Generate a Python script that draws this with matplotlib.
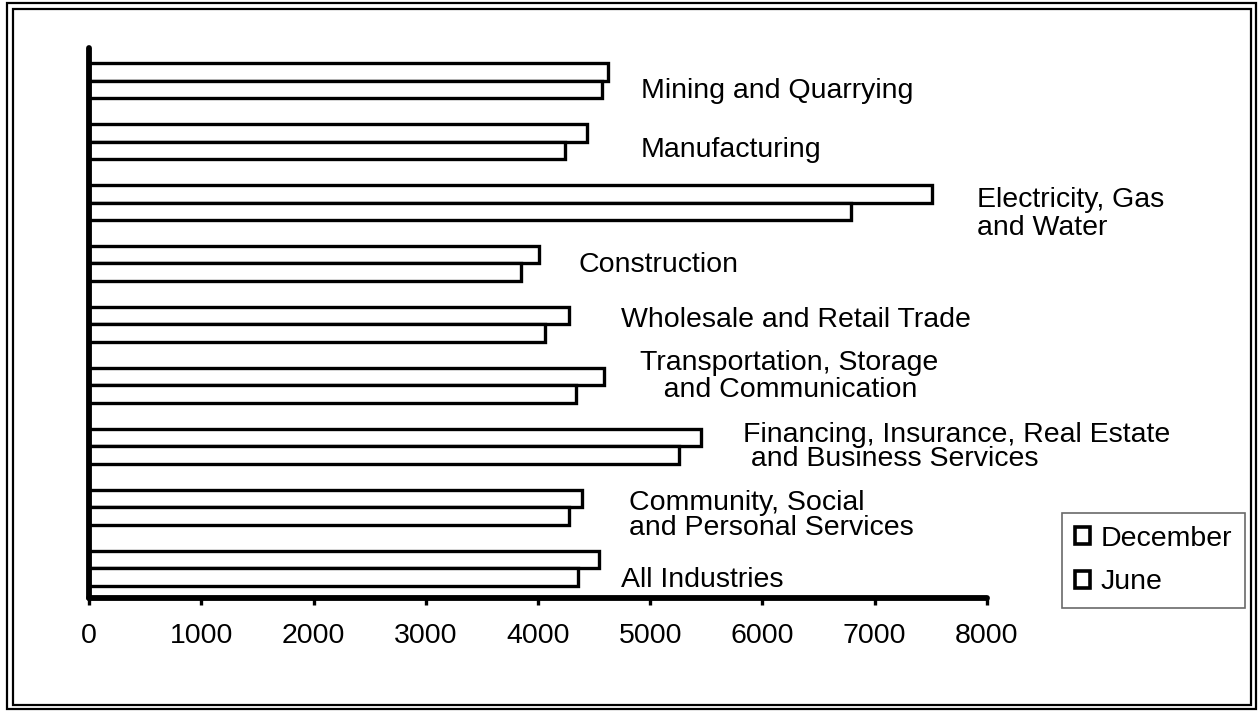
import matplotlib
matplotlib.use("Agg")
import matplotlib.pyplot as plt
from matplotlib.patches import Rectangle, Patch
import numpy as np

plt.rcParams['font.family'] = ['Liberation Sans', 'DejaVu Sans']

# ---- data ----
categories = [
    "Mining and Quarrying",
    "Manufacturing",
    "Electricity, Gas\nand Water",
    "Construction",
    "Wholesale and Retail Trade",
    "Transportation, Storage\n   and Communication",
    "Financing, Insurance, Real Estate\n and Business Services",
    "Community, Social\nand Personal Services",
    "All Industries",
]
december = [4620, 4440, 7510, 4010, 4280, 4590, 5450, 4390, 4540]
june = [4570, 4240, 6790, 3850, 4060, 4340, 5260, 4280, 4360]
series_names = ["December", "June"]
xticks = [0, 1000, 2000, 3000, 4000, 5000, 6000, 7000, 8000]

# ---- layout (pixels) ----
W, H = 1258, 711
# label anchor: (left x, baseline of first line, line spacing)
label_pos = [
    (641, 98, 0),
    (641, 157, 0),
    (977, 207, 28),
    (578, 272, 0),
    (621, 327, 0),
    (640, 370, 27),
    (743, 442, 24),
    (629, 510, 25),
    (621, 587, 0),
]

fig = plt.figure(figsize=(W / 100, H / 100), dpi=100)
fig.patch.set_facecolor("white")

ax_left, ax_right, ax_top, ax_bottom = 89, 987, 48, 598
ax = fig.add_axes([ax_left / W, 1 - ax_bottom / H, (ax_right - ax_left) / W,
                   (ax_bottom - ax_top) / H])

n = len(categories)
y = np.arange(n)
h = 0.287
ax.barh(y - h / 2, december, height=h, color="white", edgecolor="black",
        linewidth=2.4, zorder=2)
ax.barh(y + h / 2, june, height=h, color="white", edgecolor="black",
        linewidth=2.4, zorder=2)

ax.set_xlim(xticks[0], xticks[-1])
ax.set_ylim(8.484, -0.533)

for s in ["top", "right"]:
    ax.spines[s].set_visible(False)
for s in ["left", "bottom"]:
    ax.spines[s].set_linewidth(4.2)
    ax.spines[s].set_capstyle("round")
    ax.spines[s].set_zorder(3)

ax.set_yticks([])
ax.set_xticks(xticks)
ax.set_xticklabels([str(t) for t in xticks], fontsize=20.5)
ax.tick_params(axis="x", direction="out", length=5, width=2.4, pad=13)

# category labels
for text, (px, py, dy) in zip(categories, label_pos):
    lines = text.split("\n")
    for k, line in enumerate(lines):
        fig.text(px / W, 1 - (py + k * dy) / H, line, fontsize=20.5,
                 ha="left", va="baseline")

# legend
handles = [Patch(facecolor="white", edgecolor="black", linewidth=2.6)
           for _ in series_names]
leg = fig.legend(handles, series_names, loc="upper left",
                 bbox_to_anchor=(1062 / W, 1 - 513 / H), borderaxespad=0,
                 fontsize=20.5, handlelength=0.55, handleheight=0.55,
                 handletextpad=0.35, borderpad=0.45, labelspacing=0.62,
                 frameon=True, fancybox=False)
leg.get_frame().set_edgecolor("#444444")
leg.get_frame().set_linewidth(1.2)

# double border frame
for (x0, y0, x1, y1) in [(7, 3, 1256, 709), (13, 9, 1251, 705)]:
    fig.add_artist(Rectangle((x0 / W, 1 - y1 / H), (x1 - x0) / W, (y1 - y0) / H,
                             transform=fig.transFigure, fill=False,
                             edgecolor="black", linewidth=1.6))

fig.savefig("out.png", dpi=100, facecolor="white")
